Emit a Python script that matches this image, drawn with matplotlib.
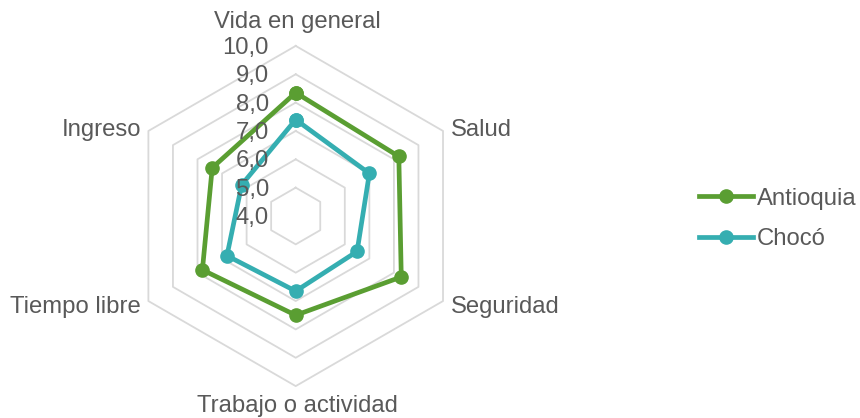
import numpy as np
import matplotlib
matplotlib.use("Agg")
import matplotlib.pyplot as plt
from matplotlib.lines import Line2D

categories = ["Vida en general", "Salud", "Seguridad", "Trabajo o actividad", "Tiempo libre", "Ingreso"]
antioquia = [8.35, 8.2, 8.3, 7.5, 7.8, 7.4]
choco = [7.4, 7.0, 6.5, 6.65, 6.8, 6.2]
ticks = [4.0, 5.0, 6.0, 7.0, 8.0, 9.0, 10.0]
tick_labels = ["4,0", "5,0", "6,0", "7,0", "8,0", "9,0", "10,0"]

plt.rcParams["font.family"] = ["Liberation Sans", "DejaVu Sans"]
TXT = "#595959"
GREEN = "#5A9E32"
TEAL = "#35AEB1"
GRID = "#D9D9D9"

W, H = 860, 418
fig = plt.figure(figsize=(W / 100, H / 100), dpi=100)

cx, cy = 295.7, 418 - 216
px_per_unit = 28.35
half = 210
ax = fig.add_axes([(cx - half) / W, (cy - half) / H, 2 * half / W, 2 * half / H])
lim = half / px_per_unit
ax.set_xlim(-lim, lim)
ax.set_ylim(-lim, lim)
ax.axis("off")

vmin = ticks[0]
n = len(categories)
ang = np.arange(n) * 2 * np.pi / n  # clockwise from top


def xy(vals):
    r = np.asarray(vals, dtype=float) - vmin
    return r * np.sin(ang), r * np.cos(ang)


# grid hexagons
for t in ticks[1:]:
    x, y = xy([t] * n)
    ax.plot(np.append(x, x[0]), np.append(y, y[0]), color=GRID, lw=1.3, zorder=1)

# series
for vals, col, lab in [(antioquia, GREEN, "Antioquia"), (choco, TEAL, "Chocó")]:
    x, y = xy(vals)
    ax.plot(np.append(x, x[0]), np.append(y, y[0]), color=col, lw=3.4,
            marker="o", ms=9.5, zorder=3, label=lab)

fs = 17.2
# tick labels
for t, lab in zip(ticks, tick_labels):
    ax.text(-0.95, t - vmin - 0.07, lab, ha="right", va="center", fontsize=fs,
            color=TXT, zorder=4)

# category labels
lx, ly = xy([ticks[-1] + 0.25] * n)
ax.text(0.05, 6 + 0.85, categories[0], ha="center", va="center", fontsize=fs, color=TXT)
ax.text(lx[1] + 0.05, ly[1] - 0.1, categories[1], ha="left", va="center", fontsize=fs, color=TXT)
ax.text(lx[2] + 0.05, ly[2] - 0.1, categories[2], ha="left", va="center", fontsize=fs, color=TXT)
ax.text(0.05, -6 - 0.7, categories[3], ha="center", va="center", fontsize=fs, color=TXT)
ax.text(lx[4] - 0.05, ly[4] - 0.1, categories[4], ha="right", va="center", fontsize=fs, color=TXT)
ax.text(lx[5] - 0.05, ly[5] - 0.1, categories[5], ha="right", va="center", fontsize=fs, color=TXT)

handles = [Line2D([], [], color=GREEN, lw=3.4, marker="o", ms=9.5),
           Line2D([], [], color=TEAL, lw=3.4, marker="o", ms=9.5)]
fig.legend(handles, ["Antioquia", "Chocó"], loc="center left",
           bbox_to_anchor=(699 / W, 1 - 219 / H), frameon=False, fontsize=fs,
           handlelength=2.25, handletextpad=0.18, labelspacing=0.78, borderpad=0,
           borderaxespad=0, labelcolor=TXT)

fig.savefig("out.png", dpi=100)
